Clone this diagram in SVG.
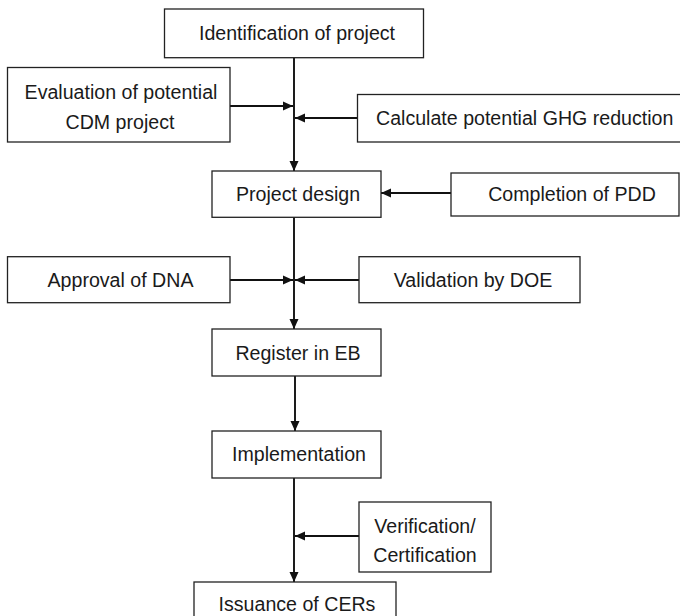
<svg xmlns="http://www.w3.org/2000/svg" width="680" height="616" viewBox="0 0 680 616">
<style>
.box{fill:#fff;stroke:#222;stroke-width:1.3}
.t{font-family:"Liberation Sans",Arial,sans-serif;font-size:19.6px;fill:#1a1a1a;text-anchor:middle}
.c{fill:none;stroke:#111;stroke-width:1.9;marker-end:url(#ah)}
.l{fill:none;stroke:#111;stroke-width:1.9}
</style>
<defs>
<marker id="ah" viewBox="0 0 10 10" refX="10" refY="5" markerWidth="10" markerHeight="10" markerUnits="userSpaceOnUse" orient="auto">
<path d="M0,0.5 L10,5 L0,9.5 Z" fill="#111"/>
</marker>
</defs>
<rect width="680" height="616" fill="#fff"/>
<g id="connectors">
<path class="c" d="M294,58 V171"/>
<path class="c" d="M230,106 H293"/>
<path class="c" d="M357,118 H295"/>
<path class="c" d="M451,193 H381"/>
<path class="c" d="M294,217 V329"/>
<path class="c" d="M230,280 H293"/>
<path class="c" d="M359,280 H295"/>
<path class="c" d="M295,376 V431"/>
<path class="c" d="M294,478 V582"/>
<path class="c" d="M359,536 H295"/>
</g>
<g id="n1"><rect class="box" x="164.5" y="9" width="259" height="48.7"/><text class="t" x="297" y="39.5">Identification of project</text></g>
<g id="n2"><rect class="box" x="7.5" y="67.5" width="222.5" height="74.5"/><text class="t" x="121" y="99">Evaluation of potential</text><text class="t" x="120" y="128.5">CDM project</text></g>
<g id="n3"><rect class="box" x="357.5" y="94.5" width="340" height="47.5"/><text class="t" x="376" y="125" style="text-anchor:start">Calculate potential GHG reduction</text></g>
<g id="n4"><rect class="box" x="212" y="171" width="169" height="46.3"/><text class="t" x="298" y="200.5">Project design</text></g>
<g id="n5"><rect class="box" x="451" y="173" width="228" height="43"/><text class="t" x="572" y="200.5">Completion of PDD</text></g>
<g id="n6"><rect class="box" x="7.5" y="256.7" width="222.5" height="46"/><text class="t" x="120.5" y="286.5">Approval of DNA</text></g>
<g id="n7"><rect class="box" x="359" y="256.7" width="221" height="46"/><text class="t" x="473" y="286.5">Validation by DOE</text></g>
<g id="n8"><rect class="box" x="212" y="329" width="169" height="47"/><text class="t" x="298" y="359.5">Register in EB</text></g>
<g id="n9"><rect class="box" x="212" y="431" width="169" height="47"/><text class="t" x="299" y="461">Implementation</text></g>
<g id="n10"><rect class="box" x="359" y="502" width="132" height="70"/><text class="t" x="425" y="533">Verification/</text><text class="t" x="425" y="562">Certification</text></g>
<g id="n11"><rect class="box" x="194" y="582" width="202" height="46"/><text class="t" x="297" y="611">Issuance of CERs</text></g>
</svg>
